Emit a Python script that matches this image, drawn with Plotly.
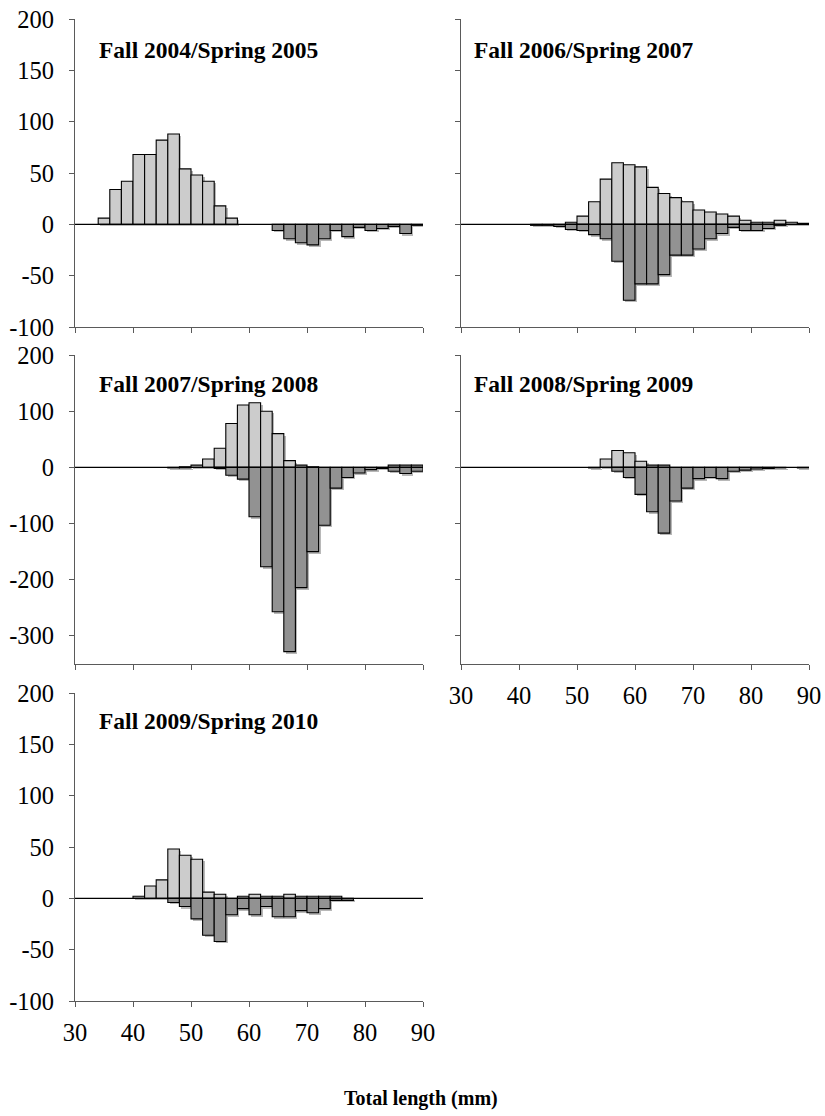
import plotly.graph_objects as go

# ---------------- data ----------------
bin_starts = list(range(30, 90, 2))          # 2-mm length classes, 30-90 mm
bin_width = 2

titles = ["Fall 2004/Spring 2005", "Fall 2006/Spring 2007",
          "Fall 2007/Spring 2008", "Fall 2008/Spring 2009",
          "Fall 2009/Spring 2010"]

fall_2004 = [0, 0, 6, 34, 42, 68, 68, 82, 88, 54, 48, 42, 18, 6, 0,
             0, 0, 0, 0, 0, 0, 0, 0, 0, 0, 0, 0, 0, 0, 0]
spring_2005 = [0, 0, 0, 0, 0, 0, 0, 0, 0, 0, 0, 0, 0, 0, 0, 0, 0,
               -6, -14, -18, -20, -14, -6, -12, -3, -6, -4, -2, -9, -1]

fall_2006 = [0, 0, 0, 0, 0, 0, 0, 0, 0, 2, 8, 22, 44, 60, 58, 56, 36,
             30, 26, 22, 14, 12, 10, 8, 4, 2, 2, 4, 2, 1]
spring_2007 = [0, 0, 0, 0, 0, 0, -1, -1, -2, -5, -6, -10, -14, -36, -74,
               -58, -58, -49, -30, -30, -24, -14, -9, -3, -6, -6, -4, -1, 0, 0]

fall_2007 = [0, 0, 0, 0, 0, 0, 0, 0, 0, 1, 4, 15, 34, 78, 111, 115, 100,
             60, 12, 4, 1, 0, 0, 0, 0, 0, 0, 4, 4, 4]
spring_2008 = [0, 0, 0, 0, 0, 0, 0, 0, -1, -1, 0, 0, -2, -14, -21, -88,
               -177, -257, -328, -214, -150, -103, -37, -18, -10, -4, -2,
               -7, -11, -7]

fall_2008 = [0, 0, 0, 0, 0, 0, 0, 0, 0, 0, 0, 0, 15, 30, 26, 11, 4, 4,
             0, 0, 0, 0, 0, 0, 0, 0, 0, 0, 0, 0]
spring_2009 = [0, 0, 0, 0, 0, 0, 0, 0, 0, 0, 0, -1, 0, -7, -18, -48, -79,
               -117, -60, -37, -20, -18, -20, -7, -5, -3, -2, -1, 0, -1]

fall_2009 = [0, 0, 0, 0, 0, 2, 12, 18, 48, 42, 38, 6, 4, 0, 2, 4, 2, 2,
             4, 2, 2, 2, 2, 0, 0, 0, 0, 0, 0, 0]
spring_2010 = [0, 0, 0, 0, 0, 0, 0, 0, -4, -8, -20, -36, -42, -16, -10,
               -16, -8, -18, -18, -12, -14, -10, -2, -2, 0, 0, 0, 0, 0, 0]

fall_series = [fall_2004, fall_2006, fall_2007, fall_2008, fall_2009]
spring_series = [spring_2005, spring_2007, spring_2008, spring_2009, spring_2010]

x_tick_vals = [30, 40, 50, 60, 70, 80, 90]
y_ticks_small = [-100, -50, 0, 50, 100, 150, 200]
y_ticks_large = [-300, -200, -100, 0, 100, 200]
y_ranges = [[-100, 200], [-100, 200], [-350, 200], [-350, 200], [-100, 200]]
y_ticks = [y_ticks_small, y_ticks_small, y_ticks_large, y_ticks_large, y_ticks_small]
x_title = "Total length (mm)"

# ---------------- layout geometry (screen pixels) ----------------
OFF = 0                      # body margin removed by post_script below
W, H = 825 - OFF, 1116 - OFF
px_x = [(75, 423), (461, 809), (75, 423), (461, 809), (75, 423)]
px_y = [(19, 327), (19, 327), (355, 664), (355, 664), (693, 1001)]
show_y_labels = [True, False, True, False, True]
show_x_labels = [False, False, False, True, True]
title_px = [(97, 50), (472, 50), (97, 384), (472, 384), (97, 721)]
xtitle_px = (421, 1098)

FONT = "Liberation Serif, Times New Roman, serif"
LIGHT = "#cccccc"
DARK = "#929292"
SHADOW = "rgba(0,0,0,0.28)"
AXIS = "#5a5a5a"
TICK_SIZE = 24.5


def fx(p):
    return (p - OFF) / W


def fy(p):
    return 1 - (p - OFF) / H


fig = go.Figure()
layout = dict(width=W, height=H, autosize=False,
              margin=dict(l=0, r=0, t=0, b=0, pad=0),
              paper_bgcolor="white", plot_bgcolor="white",
              font=dict(family=FONT, color="black"),
              showlegend=False, barmode="overlay", bargap=0)
shapes, annotations = [], []

for i in range(5):
    k = "" if i == 0 else str(i + 1)
    xa, ya = "x" + k, "y" + k
    x0, x1 = px_x[i]
    y0, y1 = px_y[i]
    yr = y_ranges[i]
    # shadow offsets in data units (2 px right / 2 px down)
    sx = 2.0 * (90 - 30) / (x1 - x0)
    sy = 2.0 * (yr[1] - yr[0]) / (y1 - y0)

    centers = [b + bin_width / 2 for b in bin_starts]
    for series in (fall_series[i], spring_series[i]):
        xs = [c + sx for c, v in zip(centers, series) if v]
        vs = [v for v in series if v]
        fig.add_trace(go.Bar(x=xs, y=vs, base=[-sy] * len(vs), width=bin_width,
                             marker=dict(color=SHADOW, line=dict(width=0)),
                             xaxis=xa, yaxis=ya, hoverinfo="skip"))
    for series, col in ((fall_series[i], LIGHT), (spring_series[i], DARK)):
        xs = [c for c, v in zip(centers, series) if v]
        vs = [v for v in series if v]
        fig.add_trace(go.Bar(x=xs, y=vs, width=bin_width,
                             marker=dict(color=col, line=dict(color="black", width=1.1)),
                             xaxis=xa, yaxis=ya))

    axkey = "xaxis" + k
    aykey = "yaxis" + k
    layout[axkey] = dict(
        domain=[fx(x0), fx(x1)], anchor=ya, range=[30, 90], automargin=False,
        showline=True, linecolor=AXIS, linewidth=1, mirror=False,
        ticks="outside", ticklen=5, tickcolor=AXIS, tickwidth=1,
        tickvals=x_tick_vals, ticktext=[str(v) for v in x_tick_vals],
        showticklabels=show_x_labels[i], ticklabelstandoff=5,
        ticklabeloverflow="allow",
        tickfont=dict(family=FONT, size=TICK_SIZE, color="black"),
        showgrid=False, zeroline=False, fixedrange=True)
    layout[aykey] = dict(
        domain=[fy(y1), fy(y0)], anchor=xa, range=yr, automargin=False,
        showline=True, linecolor=AXIS, linewidth=1,
        ticks="outside", ticklen=5, tickcolor=AXIS, tickwidth=1,
        tickvals=y_ticks[i], ticktext=[str(v) for v in y_ticks[i]],
        showticklabels=show_y_labels[i], ticklabelstandoff=10,
        ticklabeloverflow="allow",
        tickfont=dict(family=FONT, size=TICK_SIZE, color="black"),
        showgrid=False, zeroline=False, fixedrange=True)

    shapes.append(dict(type="line", xref=xa + " domain", yref=ya,
                       x0=0, x1=1, y0=0, y1=0, layer="above",
                       line=dict(color="black", width=1.3)))
    tx, ty = title_px[i]
    annotations.append(dict(text="<b>%s</b>" % titles[i], xref="paper", yref="paper",
                            x=fx(tx), y=fy(ty), xanchor="left", yanchor="middle",
                            showarrow=False,
                            font=dict(family=FONT, size=23.5, color="black")))

annotations.append(dict(text="<b>%s</b>" % x_title, xref="paper", yref="paper",
                        x=fx(xtitle_px[0]), y=fy(xtitle_px[1]),
                        xanchor="center", yanchor="middle",
                        showarrow=False, font=dict(family=FONT, size=20, color="black")))

layout["shapes"] = shapes
layout["annotations"] = annotations
fig.update_layout(**layout)
fig.write_html("out.html",
               config={"displayModeBar": False, "staticPlot": True},
               post_script="document.body.style.margin='0';"
                           "document.body.style.overflow='hidden';")
